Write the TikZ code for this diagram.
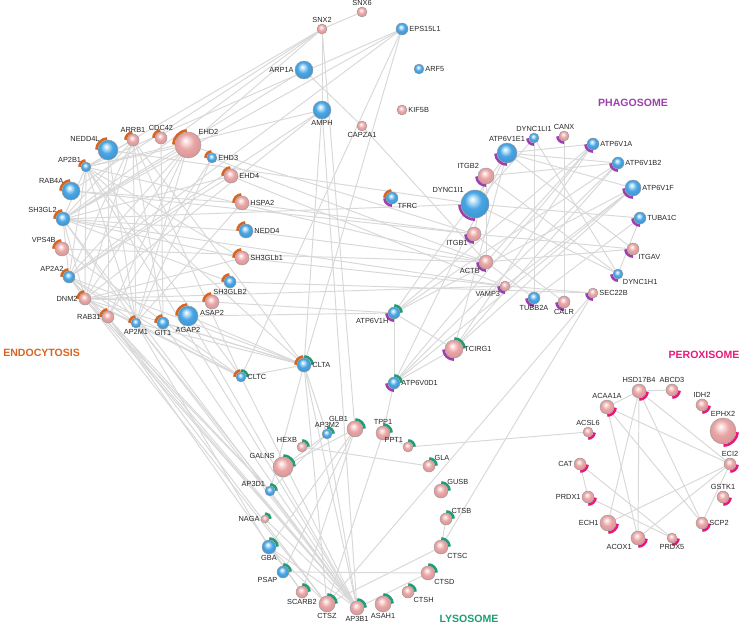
\documentclass[tikz,border=0pt]{standalone}
\usepackage{fontspec}
\usepackage{xcolor}
\usepackage{tikz}
\usetikzlibrary{backgrounds}

\newfontfamily\genefamily{Liberation Sans}
\newcommand\genesize{\genefamily\fontsize{4.2}{5}\selectfont}
\newcommand\groupsize{\genefamily\bfseries\fontsize{6}{7}\selectfont}

\definecolor{endocol}{HTML}{D8641E}
\definecolor{lysocol}{HTML}{1E9E72}
\definecolor{phagocol}{HTML}{9E3FAE}
\definecolor{peroxcol}{HTML}{E6197A}
\definecolor{pinkhi}{HTML}{FAE0E0}
\definecolor{pinkmid}{HTML}{E9A5A5}
\definecolor{pinklo}{HTML}{B06A6A}
\definecolor{bluehi}{HTML}{C6E6FA}
\definecolor{bluemid}{HTML}{48A5E4}
\definecolor{bluelo}{HTML}{22679F}
\definecolor{linkgray}{HTML}{D8D8D8}

% sphere look of the gene nodes
\pgfdeclareradialshading{pinkball}{\pgfpoint{-5bp}{9bp}}{%
  color(0bp)=(white); color(5bp)=(pinkhi); color(15bp)=(pinkmid);
  color(28bp)=(pinkmid!75!pinklo); color(34bp)=(pinklo); color(50bp)=(pinklo)}
\pgfdeclareradialshading{blueball}{\pgfpoint{-5bp}{9bp}}{%
  color(0bp)=(white); color(5bp)=(bluehi); color(15bp)=(bluemid);
  color(28bp)=(bluemid!75!bluelo); color(34bp)=(bluelo); color(50bp)=(bluelo)}

\begin{document}
\begin{tikzpicture}[x=0.02cm, y=0.02cm,
    pinkgene/.style={circle, inner sep=0pt, shading=pinkball, draw=black!40, line width=0.25pt},
    bluegene/.style={circle, inner sep=0pt, shading=blueball, draw=black!40, line width=0.25pt},
    sz/.style={minimum size=#1*0.04cm},
    link/.style={draw=linkgray, line width=0.55pt},
    endoarc/.style={draw=endocol, line width=1.5pt},
    lysoarc/.style={draw=lysocol, line width=1.5pt},
    phagoarc/.style={draw=phagocol, line width=1.5pt},
    peroxarc/.style={draw=peroxcol, line width=1.5pt},
    every label/.style={font=\genesize, text=black!85, inner sep=0.5pt},
    label distance=0pt,
    grouptitle/.style={font=\groupsize, inner sep=0pt}]
    \useasboundingbox (0,0) rectangle (749,-625);

    % endocytosis
    \node[bluegene, sz=10, label={above left:NEDD4L}] (NEDD4L) at (108,-150) {};
    \node[pinkgene, sz=6, label={above:ARRB1}] (ARRB1) at (133,-140) {};
    \node[pinkgene, sz=6, label={above:CDC42}] (CDC42) at (161,-138) {};
    \node[pinkgene, sz=13, label={above right:EHD2}] (EHD2) at (188,-145) {};
    \node[bluegene, sz=5, label={right:EHD3}] (EHD3) at (212,-158) {};
    \node[pinkgene, sz=7, label={right:EHD4}] (EHD4) at (231,-176) {};
    \node[pinkgene, sz=7, label={right:HSPA2}] (HSPA2) at (242,-203) {};
    \node[bluegene, sz=7, label={right:NEDD4}] (NEDD4) at (246,-231) {};
    \node[pinkgene, sz=7, label={right:SH3GLb1}] (SH3GLb1) at (242,-258) {};
    \node[bluegene, sz=6, label={below:SH3GLB2}] (SH3GLB2) at (230,-282) {};
    \node[pinkgene, sz=7, label={below:ASAP2}] (ASAP2) at (212,-302) {};
    \node[bluegene, sz=10, label={below:AGAP2}] (AGAP2) at (188,-316) {};
    \node[bluegene, sz=6, label={below:GIT1}] (GIT1) at (163,-323) {};
    \node[bluegene, sz=5, label={below:AP2M1}] (AP2M1) at (136,-323) {};
    \node[pinkgene, sz=6, label={left:RAB31}] (RAB31) at (108,-317) {};
    \node[pinkgene, sz=6, label={left:DNM2}] (DNM2) at (85,-299) {};
    \node[bluegene, sz=6, label={above left:AP2A2}] (AP2A2) at (69,-277) {};
    \node[pinkgene, sz=7, label={above left:VPS4B}] (VPS4B) at (62,-249) {};
    \node[bluegene, sz=7, label={above left:SH3GL2}] (SH3GL2) at (63,-219) {};
    \node[bluegene, sz=9, label={above left:RAB4A}] (RAB4A) at (71,-191) {};
    \node[bluegene, sz=5, label={above left:AP2B1}] (AP2B1) at (86,-167) {};
    \node[bluegene, sz=5, label={right:CLTC}] (CLTC) at (241,-377) {};
    \node[bluegene, sz=7, label={right:CLTA}] (CLTA) at (304,-365) {};
    \node[bluegene, sz=6, label={below right:TFRC}] (TFRC) at (392,-198) {};

    % top, no term
    \node[pinkgene, sz=5, label={above:SNX6}] (SNX6) at (362,-12) {};
    \node[pinkgene, sz=5, label={above:SNX2}] (SNX2) at (322,-29) {};
    \node[bluegene, sz=6, label={right:EPS15L1}] (EPS15L1) at (402,-29) {};
    \node[bluegene, sz=9, label={left:ARP1A}] (ARP1A) at (304,-70) {};
    \node[bluegene, sz=5, label={right:ARF5}] (ARF5) at (419,-69) {};
    \node[bluegene, sz=9, label={below:AMPH}] (AMPH) at (322,-110) {};
    \node[pinkgene, sz=5, label={right:KIF5B}] (KIF5B) at (402,-110) {};
    \node[pinkgene, sz=5, label={below:CAPZA1}] (CAPZA1) at (362,-126) {};

    % phagosome
    \node[bluegene, sz=5, label={above:DYNC1LI1}] (DYNC1LI1) at (534,-138) {};
    \node[pinkgene, sz=5, label={above:CANX}] (CANX) at (564,-136) {};
    \node[bluegene, sz=10, label={above:ATP6V1E1}] (ATP6V1E1) at (507,-153) {};
    \node[bluegene, sz=6, label={right:ATP6V1A}] (ATP6V1A) at (593,-144) {};
    \node[bluegene, sz=6, label={right:ATP6V1B2}] (ATP6V1B2) at (618,-163) {};
    \node[pinkgene, sz=8, label={above left:ITGB2}] (ITGB2) at (486,-176) {};
    \node[bluegene, sz=8, label={right:ATP6V1F}] (ATP6V1F) at (633,-188) {};
    \node[bluegene, sz=14, label={above left:DYNC1I1}] (DYNC1I1) at (475,-204) {};
    \node[bluegene, sz=6, label={right:TUBA1C}] (TUBA1C) at (640,-218) {};
    \node[pinkgene, sz=7, label={below left:ITGB1}] (ITGB1) at (474,-234) {};
    \node[pinkgene, sz=6, label={below right:ITGAV}] (ITGAV) at (633,-249) {};
    \node[pinkgene, sz=7, label={below left:ACTB}] (ACTB) at (486,-262) {};
    \node[bluegene, sz=5, label={below right:DYNC1H1}] (DYNC1H1) at (618,-274) {};
    \node[pinkgene, sz=5, label={below left:VAMP3}] (VAMP3) at (505,-286) {};
    \node[pinkgene, sz=5, label={right:SEC22B}] (SEC22B) at (593,-293) {};
    \node[bluegene, sz=6, label={below:TUBB2A}] (TUBB2A) at (534,-298) {};
    \node[pinkgene, sz=6, label={below:CALR}] (CALR) at (564,-302) {};

    % lysosome
    \node[bluegene, sz=6, label={below left:ATP6V1H}] (ATP6V1H) at (394,-313) {};
    \node[pinkgene, sz=9, label={right:TCIRG1}] (TCIRG1) at (454,-349) {};
    \node[bluegene, sz=6, label={right:ATP6V0D1}] (ATP6V0D1) at (394,-383) {};
    \node[bluegene, sz=5, label={above:AP3M2}] (AP3M2) at (327,-434) {};
    \node[pinkgene, sz=8, label={above left:GLB1}] (GLB1) at (355,-429) {};
    \node[pinkgene, sz=7, label={above:TPP1}] (TPP1) at (383,-433) {};
    \node[pinkgene, sz=5, label={above left:HEXB}] (HEXB) at (302,-447) {};
    \node[pinkgene, sz=5, label={above left:PPT1}] (PPT1) at (408,-447) {};
    \node[pinkgene, sz=10, label={above left:GALNS}] (GALNS) at (283,-467) {};
    \node[pinkgene, sz=6, label={above right:GLA}] (GLA) at (429,-466) {};
    \node[bluegene, sz=5, label={above left:AP3D1}] (AP3D1) at (270,-491) {};
    \node[pinkgene, sz=7, label={above right:GUSB}] (GUSB) at (441,-491) {};
    \node[pinkgene, sz=4, label={left:NAGA}] (NAGA) at (265,-519) {};
    \node[pinkgene, sz=6, label={above right:CTSB}] (CTSB) at (446,-519) {};
    \node[bluegene, sz=7, label={below:GBA}] (GBA) at (269,-547) {};
    \node[pinkgene, sz=7, label={below right:CTSC}] (CTSC) at (441,-547) {};
    \node[bluegene, sz=6, label={below left:PSAP}] (PSAP) at (283,-572) {};
    \node[pinkgene, sz=7, label={below right:CTSD}] (CTSD) at (428,-573) {};
    \node[pinkgene, sz=6, label={below:SCARB2}] (SCARB2) at (302,-592) {};
    \node[pinkgene, sz=6, label={below right:CTSH}] (CTSH) at (408,-592) {};
    \node[pinkgene, sz=8, label={below:CTSZ}] (CTSZ) at (327,-604) {};
    \node[pinkgene, sz=7, label={below:AP3B1}] (AP3B1) at (357,-608) {};
    \node[pinkgene, sz=8, label={below:ASAH1}] (ASAH1) at (383,-604) {};

    % peroxisome
    \node[pinkgene, sz=7, label={above:HSD17B4}] (HSD17B4) at (639,-391) {};
    \node[pinkgene, sz=6, label={above:ABCD3}] (ABCD3) at (672,-390) {};
    \node[pinkgene, sz=7, label={above:ACAA1A}] (ACAA1A) at (607,-407) {};
    \node[pinkgene, sz=6, label={above:IDH2}] (IDH2) at (702,-405) {};
    \node[pinkgene, sz=13, label={above:EPHX2}] (EPHX2) at (723,-431) {};
    \node[pinkgene, sz=5, label={above:ACSL6}] (ACSL6) at (588,-432) {};
    \node[pinkgene, sz=6, label={above:ECI2}] (ECI2) at (730,-464) {};
    \node[pinkgene, sz=6, label={left:CAT}] (CAT) at (580,-464) {};
    \node[pinkgene, sz=6, label={above:GSTK1}] (GSTK1) at (723,-497) {};
    \node[pinkgene, sz=6, label={left:PRDX1}] (PRDX1) at (588,-497) {};
    \node[pinkgene, sz=6, label={right:SCP2}] (SCP2) at (702,-523) {};
    \node[pinkgene, sz=8, label={left:ECH1}] (ECH1) at (608,-523) {};
    \node[pinkgene, sz=7, label={below left:ACOX1}] (ACOX1) at (638,-538) {};
    \node[pinkgene, sz=5, label={below:PRDX5}] (PRDX5) at (672,-538) {};

    % group titles
    \node[grouptitle, text=endocol, anchor=west] (endotitle) at (3,-353) {ENDOCYTOSIS};
    \node[grouptitle, text=phagocol] (phagotitle) at (633,-103) {PHAGOSOME};
    \node[grouptitle, text=peroxcol] (peroxtitle) at (704,-355) {PEROXISOME};
    \node[grouptitle, text=lysocol] (lysotitle) at (469,-619) {LYSOSOME};

    \begin{scope}[on background layer]
    \draw[link] (SNX6) edge (SNX2)
          (SNX2) edge (AMPH)
          (SNX2) edge (AP2B1)
          (SNX2) edge (RAB4A)
          (SNX2) edge (SH3GL2)
          (SNX2) edge (EHD2)
          (SNX2) edge (GLB1)
          (ARP1A) edge (CAPZA1)
          (CAPZA1) edge (ACTB)
          (ARP1A) edge (SH3GL2)
          (EPS15L1) edge (SH3GL2)
          (EPS15L1) edge (AP2B1)
          (EPS15L1) edge (AP2A2)
          (EPS15L1) edge (CLTA)
          (EPS15L1) edge (CLTC)
          (AMPH) edge (AP2B1)
          (AMPH) edge (AP2A2)
          (AMPH) edge (DNM2)
          (AMPH) edge (CLTA)
          (AMPH) edge (AP3B1)
          (AP2B1) edge (ARRB1)
          (AP2B1) edge (AP2M1)
          (AP2B1) edge (AP2A2)
          (AP2B1) edge (DNM2)
          (AP2B1) edge (SH3GL2)
          (AP2B1) edge (CLTC)
          (AP2B1) edge (CLTA)
          (AP2B1) edge (EHD2)
          (ARRB1) edge (AP2M1)
          (ARRB1) edge (AP2A2)
          (ARRB1) edge (DNM2)
          (ARRB1) edge (CLTA)
          (ARRB1) edge (CLTC)
          (ARRB1) edge (SH3GL2)
          (ARRB1) edge (GIT1)
          (CDC42) edge (GIT1)
          (EHD2) edge (DNM2)
          (EHD2) edge (AP2M1)
          (EHD2) edge (RAB31)
          (EHD2) edge (SH3GL2)
          (EHD2) edge (AP2A2)
          (EHD3) edge (RAB31)
          (EHD3) edge (AP2M1)
          (EHD4) edge (AP2A2)
          (EHD4) edge (SH3GL2)
          (NEDD4L) edge (AP2M1)
          (NEDD4L) edge (RAB31)
          (RAB4A) edge (HSPA2)
          (SH3GL2) edge (DNM2)
          (SH3GL2) edge (AP2A2)
          (SH3GL2) edge (AP2M1)
          (SH3GL2) edge (NEDD4)
          (SH3GL2) edge (SH3GLB2)
          (SH3GL2) edge (SH3GLb1)
          (VPS4B) edge (CLTC)
          (DNM2) edge (AP2A2)
          (DNM2) edge (AP2M1)
          (DNM2) edge (SH3GLB2)
          (DNM2) edge (SH3GLb1)
          (DNM2) edge (CLTC)
          (DNM2) edge (CLTA)
          (DNM2) edge (ASAP2)
          (AP2A2) edge (AP2M1)
          (AP2A2) edge (CLTC)
          (AP2A2) edge (CLTA)
          (AP2M1) edge (CLTA)
          (AP2M1) edge (CLTC)
          (AGAP2) edge (CLTA)
          (GIT1) edge (CLTA)
          (SH3GLb1) edge (AP2B1)
          (HSPA2) edge (AP2M1)
          (CLTA) edge (CLTC)
          (CLTA) edge (CTSZ)
          (CLTA) edge (AP3B1)
          (CLTA) edge (AP3M2)
          (CLTA) edge (AP3D1)
          (CLTC) edge (AP3B1)
          (DNM2) edge (AP3B1)
          (RAB31) edge (AP3B1)
          (AP2M1) edge (AP3B1)
          (AP2A2) edge (AP3D1)
          (AP2M1) edge (AP3D1)
          (AP2B1) edge (AP3B1)
          (DNM2) edge (CTSZ)
          (RAB31) edge (SCARB2)
          (AP2M1) edge (GBA)
          (GIT1) edge (AP3B1)
          (SH3GL2) edge (AP3B1)
          (AP2A2) edge (AP3B1)
          (DNM2) edge (AP3D1)
          (RAB31) edge (CTSZ)
          (AGAP2) edge (AP3B1)
          (EHD2) edge (ITGB1)
          (EHD3) edge (ACTB)
          (EHD4) edge (VAMP3)
          (HSPA2) edge (ITGB1)
          (NEDD4) edge (ACTB)
          (SH3GLb1) edge (VAMP3)
          (SH3GL2) edge (DYNC1I1)
          (AP2B1) edge (ACTB)
          (RAB4A) edge (ITGB1)
          (SH3GL2) edge (VAMP3)
          (SH3GLB2) edge (SEC22B)
          (DNM2) edge (VAMP3)
          (AGAP2) edge (ATP6V1H)
          (ASAP2) edge (ATP6V1H)
          (NEDD4L) edge (DYNC1I1)
          (VPS4B) edge (ACTB)
          (DYNC1LI1) edge (TUBB2A)
          (CANX) edge (CALR)
          (ATP6V1E1) edge (ATP6V1A)
          (ATP6V1E1) edge (ATP6V1B2)
          (ATP6V1E1) edge (ATP6V1F)
          (DYNC1LI1) edge (DYNC1H1)
          (DYNC1LI1) edge (DYNC1I1)
          (DYNC1I1) edge (TUBA1C)
          (DYNC1I1) edge (DYNC1H1)
          (ITGB1) edge (ITGAV)
          (ITGB2) edge (ITGB1)
          (ITGB2) edge (ACTB)
          (ACTB) edge (ITGAV)
          (TUBA1C) edge (DYNC1H1)
          (TUBA1C) edge (TUBB2A)
          (SEC22B) edge (VAMP3)
          (ACTB) edge (TUBB2A)
          (VAMP3) edge (ATP6V1F)
          (ACTB) edge (ATP6V1A)
          (ITGB2) edge (ATP6V1B2)
          (ATP6V1E1) edge (ITGAV)
          (CALR) edge (ITGB1)
          (ITGB2) edge (DYNC1H1)
          (ATP6V1H) edge (ATP6V0D1)
          (ATP6V1H) edge (TCIRG1)
          (ATP6V1H) edge (ATP6V1A)
          (ATP6V1H) edge (ATP6V1B2)
          (ATP6V1H) edge (ATP6V1F)
          (ATP6V1H) edge (ATP6V1E1)
          (ATP6V0D1) edge (TCIRG1)
          (ATP6V0D1) edge (ATP6V1A)
          (ATP6V0D1) edge (ATP6V1B2)
          (ATP6V0D1) edge (ATP6V1F)
          (ATP6V0D1) edge (ATP6V1E1)
          (TCIRG1) edge (ATP6V1A)
          (TCIRG1) edge (ATP6V1B2)
          (TCIRG1) edge (ATP6V1F)
          (TCIRG1) edge (ATP6V1E1)
          (ATP6V0D1) edge (TPP1)
          (AP3M2) edge (AP3D1)
          (AP3M2) edge (AP3B1)
          (AP3D1) edge (AP3B1)
          (GALNS) edge (GLB1)
          (GALNS) edge (AP3M2)
          (HEXB) edge (GLA)
          (TPP1) edge (PPT1)
          (GLB1) edge (PSAP)
          (GLB1) edge (GBA)
          (GBA) edge (SCARB2)
          (PSAP) edge (CTSD)
          (CTSB) edge (CTSC)
          (CTSC) edge (CTSZ)
          (CTSD) edge (AP3B1)
          (GBA) edge (AP3B1)
          (NAGA) edge (AP3B1)
          (GBA) edge (CTSZ)
          (SCARB2) edge (GLB1)
          (CTSZ) edge (TPP1)
          (SEC22B) edge (CTSZ)
          (SEC22B) edge (CTSC)
          (PPT1) edge (ACSL6)
          (HSD17B4) edge (ABCD3)
          (HSD17B4) edge (ACAA1A)
          (HSD17B4) edge (ECH1)
          (HSD17B4) edge (ACOX1)
          (HSD17B4) edge (SCP2)
          (HSD17B4) edge (ECI2)
          (ACAA1A) edge (ECI2)
          (ACAA1A) edge (SCP2)
          (ACAA1A) edge (ACOX1)
          (ECI2) edge (ECH1)
          (ECI2) edge (ACOX1)
          (ECI2) edge (SCP2)
          (CAT) edge (PRDX1)
          (CAT) edge (PRDX5)
          (PRDX1) edge (PRDX5);

    % term arcs round the genes
    \foreach \n/\r in {NEDD4L/10,ARRB1/6,CDC42/6,EHD2/13,EHD3/5,EHD4/7,HSPA2/7,NEDD4/7,
        SH3GLb1/7,SH3GLB2/6,ASAP2/7,AGAP2/10,GIT1/6,AP2M1/5,RAB31/6,DNM2/6,AP2A2/6,
        VPS4B/7,SH3GL2/7,RAB4A/9,AP2B1/5,CLTC/5,CLTA/7,TFRC/6}
      \draw[endoarc] ([shift={(95:\r+1.6)}]\n.center) arc[start angle=95, end angle=178, radius=\r+1.6];
    \foreach \n/\r in {CLTC/5,CLTA/7,ATP6V1H/6,TCIRG1/9,ATP6V0D1/6,AP3M2/5,GLB1/8,TPP1/7,
        HEXB/5,PPT1/5,GALNS/10,GLA/6,AP3D1/5,GUSB/7,NAGA/4,CTSB/6,GBA/7,CTSC/7,PSAP/6,
        CTSD/7,SCARB2/6,CTSH/6,CTSZ/8,AP3B1/7,ASAH1/8}
      \draw[lysoarc] ([shift={(3:\r+1.6)}]\n.center) arc[start angle=3, end angle=88, radius=\r+1.6];
    \foreach \n/\r in {DYNC1LI1/5,CANX/5,ATP6V1E1/10,ATP6V1A/6,ATP6V1B2/6,ITGB2/8,ATP6V1F/8,
        DYNC1I1/14,TUBA1C/6,ITGB1/7,ITGAV/6,ACTB/7,DYNC1H1/5,VAMP3/5,SEC22B/5,TUBB2A/6,
        CALR/6,TFRC/6,ATP6V1H/6,TCIRG1/9,ATP6V0D1/6}
      \draw[phagoarc] ([shift={(183:\r+1.6)}]\n.center) arc[start angle=183, end angle=270, radius=\r+1.6];
    \foreach \n/\r in {HSD17B4/7,ABCD3/6,ACAA1A/7,IDH2/6,EPHX2/13,ACSL6/5,ECI2/6,CAT/6,
        GSTK1/6,PRDX1/6,SCP2/6,ECH1/8,ACOX1/7,PRDX5/5}
      \draw[peroxarc] ([shift={(272:\r+1.6)}]\n.center) arc[start angle=272, end angle=355, radius=\r+1.6];
    \end{scope}
\end{tikzpicture}
\end{document}
